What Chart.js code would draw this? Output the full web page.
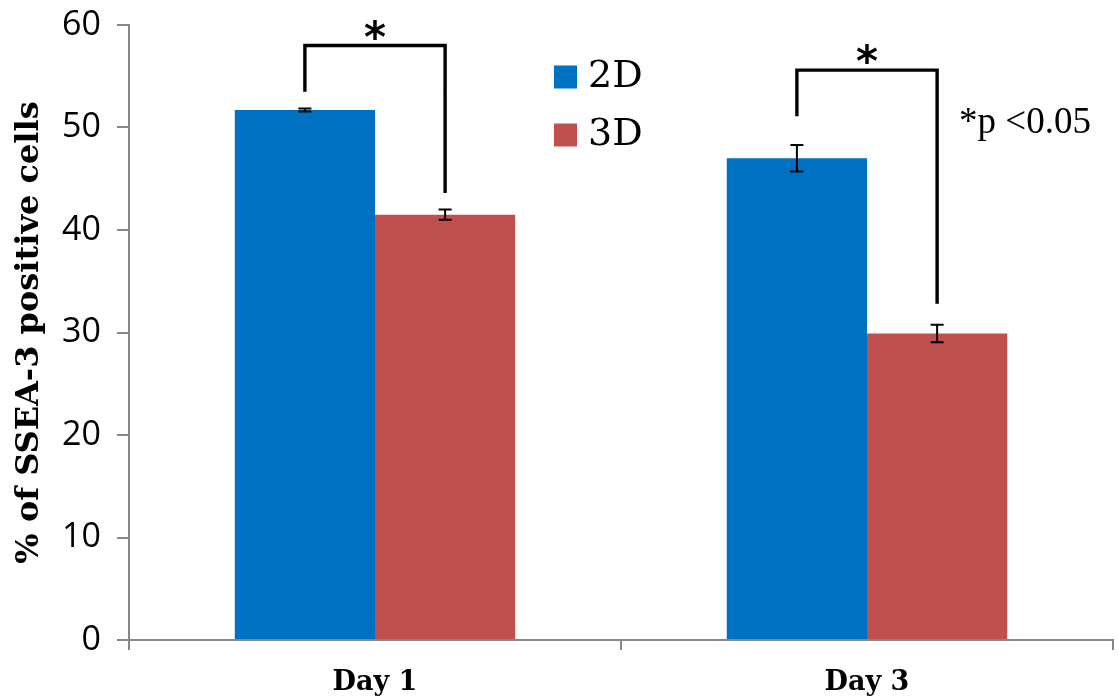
<!DOCTYPE html>
<html>
<head>
    <title>SSEA-3 positive cells</title>
    <script src="https://cdn.jsdelivr.net/npm/chart.js@4.4.1/dist/chart.umd.min.js"></script>
    <style>
        body {
            margin: 0;
            background-color: white;
        }
        .chart-container {
            position: relative;
            width: 1118px;
            height: 697px;
        }
    </style>
</head>
<body>
    <div class="chart-container">
        <canvas id="sseaChart"></canvas>
    </div>

    <script>
    const days = ['Day 1', 'Day 3'];
    const seriesNames = ['2D', '3D'];
    const values2D = [51.7, 47.0];
    const values3D = [41.5, 29.9];
    const err2D = [0.15, 1.3];
    const err3D = [0.5, 0.85];
    const yTicks = [0, 10, 20, 30, 40, 50, 60];
    // significance brackets per day: [left leg end, top line, right leg end]
    const brackets = [[53.5, 58.0, 43.6], [51.1, 55.6, 32.8]];
    const pNote = '*p <0.05';

    const colors = ['#0070C0', '#C0504D'];
    const axisGrey = '#868686';

    // error bars on every bar
    const errorBars = {
        id: 'errorBars',
        afterDatasetsDraw(chart) {
            const ctx = chart.ctx;
            const y = chart.scales.y;
            const errs = [err2D, err3D];
            ctx.save();
            ctx.strokeStyle = '#000';
            ctx.lineWidth = 2;
            chart.data.datasets.forEach((ds, i) => {
                chart.getDatasetMeta(i).data.forEach((bar, j) => {
                    const top = y.getPixelForValue(ds.data[j] + errs[i][j]);
                    const bot = y.getPixelForValue(ds.data[j] - errs[i][j]);
                    ctx.beginPath();
                    ctx.moveTo(bar.x, top); ctx.lineTo(bar.x, bot);
                    ctx.moveTo(bar.x - 6.5, top); ctx.lineTo(bar.x + 6.5, top);
                    ctx.moveTo(bar.x - 6.5, bot); ctx.lineTo(bar.x + 6.5, bot);
                    ctx.stroke();
                });
            });
            ctx.restore();
        }
    };

    // brackets, stars, p-value note and legend
    const annotations = {
        id: 'annotations',
        afterDraw(chart) {
            const ctx = chart.ctx;
            const y = chart.scales.y;
            const m2 = chart.getDatasetMeta(0).data;
            const m3 = chart.getDatasetMeta(1).data;
            ctx.save();
            ctx.strokeStyle = '#000';
            ctx.fillStyle = '#000';
            ctx.lineWidth = 3.4;
            brackets.forEach((b, j) => {
                const xl = m2[j].x, xr = m3[j].x;
                const yt = y.getPixelForValue(b[1]);
                ctx.beginPath();
                ctx.moveTo(xl, y.getPixelForValue(b[0]));
                ctx.lineTo(xl, yt);
                ctx.lineTo(xr, yt);
                ctx.lineTo(xr, y.getPixelForValue(b[2]));
                ctx.stroke();
                ctx.font = 'bold 42px "DejaVu Sans"';
                ctx.textAlign = 'center';
                ctx.textBaseline = 'alphabetic';
                ctx.fillText('*', (xl + xr) / 2, yt + 6);
            });

            ctx.font = '37px "Liberation Serif"';
            ctx.textAlign = 'left';
            ctx.textBaseline = 'middle';
            ctx.fillText(pNote, m3[1].x + 22, y.getPixelForValue(50.4));

            // legend
            const lx = chart.chartArea.left + 425;
            const rows = [77, 135];
            ctx.font = '38px "DejaVu Serif"';
            chart.data.datasets.forEach((ds, i) => {
                ctx.fillStyle = ds.backgroundColor;
                ctx.fillRect(lx, rows[i] - 11.5, 23, 23);
                ctx.fillStyle = '#000';
                ctx.fillText(ds.label, lx + 34, rows[i]);
            });
            ctx.restore();
        }
    };

    const config = {
        type: 'bar',
        data: {
            labels: days,
            datasets: [{
                label: seriesNames[0],
                data: values2D,
                backgroundColor: colors[0]
            }, {
                label: seriesNames[1],
                data: values3D,
                backgroundColor: colors[1]
            }]
        },
        options: {
            responsive: true,
            maintainAspectRatio: false,
            animation: false,
            categoryPercentage: 0.57,
            barPercentage: 1.0,
            layout: {
                padding: { top: 25, right: 5, left: 0, bottom: 0 }
            },
            plugins: {
                legend: { display: false },
                tooltip: { enabled: false }
            },
            scales: {
                x: {
                    grid: {
                        offset: true,
                        drawOnChartArea: false,
                        drawTicks: true,
                        tickLength: 10,
                        color: axisGrey,
                        lineWidth: 2
                    },
                    border: { color: axisGrey, width: 2 },
                    ticks: {
                        color: '#000',
                        padding: 17,
                        font: { family: 'DejaVu Serif', size: 27, weight: 'bold' }
                    },
                    afterFit(scale) { scale.height = 57; }
                },
                y: {
                    min: 0,
                    max: 60,
                    afterBuildTicks(scale) {
                        scale.ticks = yTicks.map(v => ({ value: v }));
                    },
                    grid: {
                        drawOnChartArea: false,
                        drawTicks: true,
                        tickLength: 12,
                        color: axisGrey,
                        lineWidth: 2
                    },
                    border: { color: axisGrey, width: 2 },
                    ticks: {
                        color: '#000',
                        padding: 16,
                        font: { family: 'Open Sans', size: 34 }
                    },
                    title: {
                        display: true,
                        text: '% of SSEA-3 positive cells',
                        color: '#000',
                        padding: { top: 10, bottom: 0 },
                        font: { family: 'DejaVu Serif', size: 32, weight: 'bold' }
                    },
                    afterFit(scale) {
                        scale.width = 129;
                        scale.paddingTop = 0;
                        scale.paddingBottom = 0;
                    }
                }
            }
        },
        plugins: [errorBars, annotations]
    };

    const chart = new Chart(document.getElementById('sseaChart').getContext('2d'), config);
    </script>
</body>
</html>
